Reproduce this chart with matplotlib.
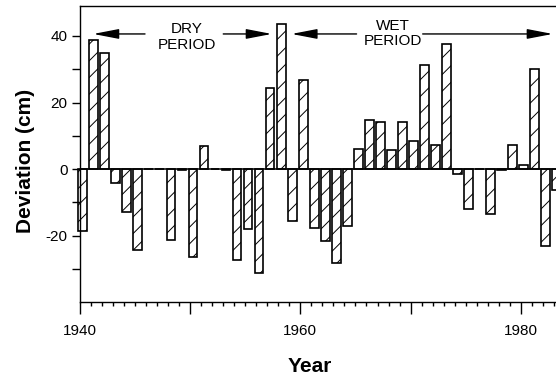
import matplotlib
matplotlib.use('Agg')
import matplotlib.pyplot as plt
import numpy as np

# deviation of water level from mean, one bar per year
years = np.arange(1940, 1984)
deviation = [-18.5, 38.7, 34.8, -4.2, -12.8, -24.2, 0.0, 0.0, -21.3, -0.4,
             -26.3, 7.0, 0.0, -0.4, -27.2, -18.0, -31.2, 24.4, 43.7, -15.5,
             26.8, -17.8, -21.5, -28.1, -17.0, 6.2, 14.9, 14.2, 5.7, 14.1,
             8.6, 31.4, 7.4, 37.6, -1.5, -11.9, 0.0, -13.4, -0.4, 7.4,
             1.2, 30.1, -23.0, -6.3]

x_major = [1940, 1950, 1960, 1970, 1980]
x_labels = ['1940', '', '1960', '', '1980']
y_ticks = [40, 30, 20, 10, 0, -10, -20, -30]
y_labels = ['40', '', '20', '', '0', '', '-20', '']

plt.rcParams['font.family'] = ['Liberation Sans', 'DejaVu Sans']
plt.rcParams['axes.unicode_minus'] = False
plt.rcParams['hatch.linewidth'] = 0.7

fig = plt.figure(figsize=(5.56, 3.81), dpi=100)
ax = fig.add_axes([0.1439, 0.2073, 0.8561, 0.777])

bars = ax.bar(years + 0.25, deviation, width=0.8, color='white',
              edgecolor='black', hatch='//', linewidth=1.2)
for b in bars:
    b.set_clip_on(False)
ax.axhline(0, color='black', lw=1.1)

ax.set_xlim(1940, 1983.2)
ax.set_ylim(-39.9, 49)

ax.spines['right'].set_visible(False)
for s in ['left', 'bottom', 'top']:
    ax.spines[s].set_linewidth(1.0)

ax.set_xticks(x_major)
ax.set_xticklabels(x_labels)
ax.set_xticks(years, minor=True)
ax.set_yticks(y_ticks)
ax.set_yticklabels(y_labels)
ax.tick_params(axis='x', which='major', direction='out', length=8.5, width=1, pad=7, labelsize=11)
ax.tick_params(axis='x', which='minor', direction='out', length=3, width=1)
ax.tick_params(axis='y', which='major', direction='out', length=5.5, width=1, pad=3.5, labelsize=11)

ax.set_xlabel('Year', fontweight='bold', fontsize=15)
ax.set_ylabel('Deviation (cm)', fontweight='bold', fontsize=15)
ax.xaxis.set_label_coords(0.483, -0.186)
ax.yaxis.set_label_coords(-0.094, 0.477)

# period annotations
arrow = dict(arrowstyle='-|>,head_length=1.3,head_width=0.25', mutation_scale=12,
             color='black', lw=1, shrinkA=0, shrinkB=0)
ax.annotate('', xy=(1941.2, 40.6), xytext=(1945.9, 40.6), arrowprops=arrow)
ax.annotate('', xy=(1957.4, 40.6), xytext=(1953.0, 40.6), arrowprops=arrow)
ax.annotate('', xy=(1959.2, 40.6), xytext=(1965.1, 40.6), arrowprops=arrow)
ax.annotate('', xy=(1982.9, 40.6), xytext=(1971.1, 40.6), arrowprops=arrow)
ax.text(1949.7, 39.6, 'DRY\nPERIOD', ha='center', va='center', fontsize=11, linespacing=1.15)
ax.text(1968.4, 40.7, 'WET\nPERIOD', ha='center', va='center', fontsize=11, linespacing=1.15)

plt.savefig('out.png', dpi=100)
